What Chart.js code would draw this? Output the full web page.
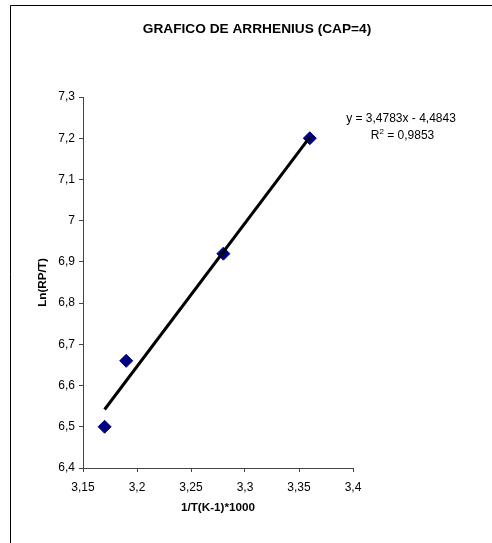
<!DOCTYPE html>
<html>
<head>
<meta charset="utf-8">
<script src="https://cdn.jsdelivr.net/npm/chart.js@4.4.1/dist/chart.umd.min.js"></script>
<style>
  html, body { margin: 0; padding: 0; background: #fff; }
  #wrap { width: 492px; height: 543px; position: relative; }
</style>
</head>
<body>
<div id="wrap"><canvas id="c" width="492" height="543"></canvas></div>
<script>
// Measured points: 1/T (K-1) * 1000 vs Ln(RP/T)
const invTemp = [3.17, 3.19, 3.28, 3.36];
const lnRpT = [6.50, 6.66, 6.92, 7.20];

// Linear trendline as reported on the chart
const slope = 3.4783;
const intercept = -4.4843;
const rSquared = '0,9853';

// Axis ticks and their labels (decimal comma)
const xTickValues = [3.15, 3.2, 3.25, 3.3, 3.35, 3.4];
const xTickLabels = ['3,15', '3,2', '3,25', '3,3', '3,35', '3,4'];
const yTickValues = [6.4, 6.5, 6.6, 6.7, 6.8, 6.9, 7.0, 7.1, 7.2, 7.3];
const yTickLabels = ['6,4', '6,5', '6,6', '6,7', '6,8', '6,9', '7', '7,1', '7,2', '7,3'];

const chartTitle = 'GRAFICO DE ARRHENIUS (CAP=4)';
const xTitle = '1/T(K-1)*1000';
const yTitle = 'Ln(RP/T)';

const FONT = 'Arial, "Liberation Sans", sans-serif';
const AXIS_COLOR = '#444';

const scatterPoints = invTemp.map((x, i) => ({ x: x, y: lnRpT[i] }));
const xFirst = Math.min(...invTemp);
const xLast = Math.max(...invTemp);
const trendPoints = [
  { x: xFirst, y: slope * xFirst + intercept },
  { x: xLast, y: slope * xLast + intercept }
];

function fmt(n) {
  return n.toFixed(4).replace('.', ',');
}

// Frame, chart title and trendline equation
const decorations = {
  id: 'decorations',
  beforeDraw(chart) {
    const ctx = chart.ctx;
    ctx.save();
    ctx.fillStyle = '#fff';
    ctx.fillRect(0, 0, chart.width, chart.height);
    ctx.strokeStyle = '#000';
    ctx.lineWidth = 1;
    ctx.beginPath();
    ctx.moveTo(10.5, chart.height + 5);
    ctx.lineTo(10.5, 5.5);
    ctx.lineTo(chart.width + 5, 5.5);
    ctx.stroke();
    ctx.restore();
  },
  afterDraw(chart) {
    const ctx = chart.ctx;
    ctx.save();
    ctx.fillStyle = '#000';
    ctx.textBaseline = 'middle';
    ctx.textAlign = 'center';
    ctx.font = 'bold 13.7px ' + FONT;
    ctx.fillText(chartTitle, 257, 29);

    ctx.font = '12px ' + FONT;
    const eq = 'y = ' + fmt(slope) + 'x ' + (intercept < 0 ? '- ' : '+ ') + fmt(Math.abs(intercept));
    ctx.fillText(eq, 401, 119);

    // R² line with a raised, smaller "2"
    const partA = 'R';
    const partSup = '2';
    const partB = ' = ' + rSquared;
    ctx.font = '12px ' + FONT;
    const wA = ctx.measureText(partA).width;
    const wB = ctx.measureText(partB).width;
    ctx.font = '8px ' + FONT;
    const wS = ctx.measureText(partSup).width;
    const total = wA + wS + wB;
    let x = 402.5 - total / 2;
    ctx.textAlign = 'left';
    ctx.font = '12px ' + FONT;
    ctx.fillText(partA, x, 136);
    x += wA;
    ctx.font = '8px ' + FONT;
    ctx.fillText(partSup, x, 132);
    x += wS;
    ctx.font = '12px ' + FONT;
    ctx.fillText(partB, x, 136);
    ctx.restore();
  }
};

new Chart(document.getElementById('c'), {
  type: 'scatter',
  data: {
    datasets: [
      {
        label: 'Tendencia',
        type: 'line',
        data: trendPoints,
        borderColor: '#000',
        borderWidth: 3,
        pointRadius: 0,
        fill: false,
        order: 0
      },
      {
        label: 'Ln(RP/T)',
        data: scatterPoints,
        pointStyle: 'rectRot',
        pointRadius: 6.5,
        pointBackgroundColor: '#000080',
        pointBorderColor: '#000080',
        pointBorderWidth: 1,
        order: 1
      }
    ]
  },
  options: {
    responsive: false,
    animation: false,
    events: [],
    layout: { padding: { left: 10, top: 97, right: 139, bottom: 0 } },
    plugins: {
      legend: { display: false },
      title: { display: false },
      tooltip: { enabled: false }
    },
    scales: {
      x: {
        type: 'linear',
        min: 3.15,
        max: 3.4,
        afterBuildTicks(scale) { scale.ticks = xTickValues.map(v => ({ value: v })); },
        afterFit(scale) { scale.height = 75; },
        grid: { drawOnChartArea: false, drawTicks: true, tickLength: 4, color: AXIS_COLOR },
        border: { display: true, color: AXIS_COLOR, width: 1 },
        ticks: {
          color: '#000',
          font: { family: FONT, size: 12 },
          padding: 8,
          maxRotation: 0,
          callback(value, index) { return xTickLabels[index]; }
        },
        title: {
          display: true,
          text: xTitle,
          color: '#000',
          font: { family: FONT, size: 11.7, weight: 'bold' },
          padding: { top: 0, bottom: 28 }
        }
      },
      y: {
        type: 'linear',
        min: 6.4,
        max: 7.3,
        afterBuildTicks(scale) { scale.ticks = yTickValues.map(v => ({ value: v })); },
        afterFit(scale) { scale.width = 73; },
        grid: { drawOnChartArea: false, drawTicks: true, tickLength: 4, color: AXIS_COLOR },
        border: { display: true, color: AXIS_COLOR, width: 1 },
        ticks: {
          color: '#000',
          font: { family: FONT, size: 12 },
          padding: 4,
          callback(value, index) { return yTickLabels[index]; }
        },
        title: {
          display: true,
          text: yTitle,
          color: '#000',
          font: { family: FONT, size: 11.7, weight: 'bold' },
          padding: { top: 26, bottom: 0 }
        }
      }
    }
  },
  plugins: [decorations]
});
</script>
</body>
</html>
